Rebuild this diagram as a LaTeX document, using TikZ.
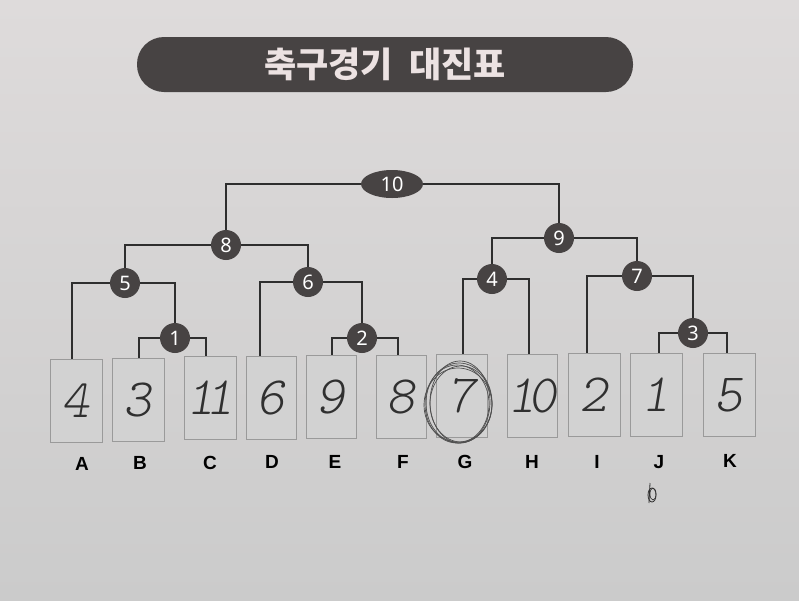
\documentclass[tikz,border=0pt]{standalone}
\usepackage{fontspec}
\setsansfont{Liberation Sans}
\newfontfamily\kr{Noto Sans CJK KR}
\newfontfamily\numfont{Noto Sans}
\newfontfamily\hand{lmmonolt10-regular.otf}[ItalicFont=lmmonolt10-oblique.otf]
\usetikzlibrary{shapes.geometric}
\definecolor{paperT}{HTML}{DEDBDB}
\definecolor{paperB}{HTML}{CBCBCB}
\definecolor{dark}{HTML}{474343}
\definecolor{titletext}{HTML}{ECE2E2}
\definecolor{boxfill}{HTML}{D2D2D2}
\definecolor{boxline}{HTML}{9A9A9A}
\definecolor{wire}{HTML}{2E2E2E}
\definecolor{pen}{HTML}{303030}
\tikzset{
  team/.style={draw=boxline, fill=boxfill, line width=0.8pt, minimum width=52pt, minimum height=83pt, inner sep=0pt,
    font=\hand\itshape\fontsize{54}{54}\selectfont, text=pen},
  match/.style={circle, fill=dark, minimum size=30pt, inner sep=0pt, text=white, font=\numfont\fontsize{20}{20}\selectfont},
  final/.style={ellipse, fill=dark, minimum width=62pt, minimum height=28pt, inner sep=0pt, text=white, font=\numfont\fontsize{20}{20}\selectfont},
  wirestyle/.style={draw=wire, line width=1.2pt},
  lab/.style={font=\sffamily\bfseries\fontsize{19}{19}\selectfont, text=black}
}
\begin{document}
\begin{tikzpicture}[x=1pt,y=-1pt]
\useasboundingbox (0,0) rectangle (799,600);
\shade[top color=paperT, bottom color=paperB] (0,0) rectangle (799,600);

% title banner
\node[fill=dark, rounded corners=27pt, minimum width=496pt, minimum height=55pt, inner sep=0pt,
  text=titletext, font=\kr\bfseries\fontsize{35}{35}\selectfont] (title) at (385,64.5) {축구경기\ \ 대진표};

% team boxes
\node[team] (A) at (76,401) {4};
\node[team] (B) at (138,400) {3};
\node[team] (C) at (210,398) {\makebox[0pt]{1\kern-9pt1}};
\node[team, minimum width=50pt] (D) at (271,398) {6};
\node[team, minimum width=50pt] (E) at (331,397) {9};
\node[team, minimum width=50pt] (F) at (401,397) {8};
\node[team, minimum width=51pt] (G) at (462,396) {7};
\node[team, minimum width=50pt] (H) at (532,396) {\makebox[0pt]{1\kern-7pt0}};
\node[team] (I) at (594,395) {2};
\node[team] (J) at (656,395) {1};
\node[team] (K) at (729,395) {5};

% matches
\node[final] (m10) at (392,184) {10};
\node[match] (m8) at (226,245) {8};
\node[match] (m9) at (559,238) {9};
\node[match] (m5) at (125,283) {5};
\node[match] (m6) at (308,282) {6};
\node[match] (m4) at (492,279) {4};
\node[match] (m7) at (637,276) {7};
\node[match] (m1) at (175,338) {1};
\node[match] (m2) at (362,338) {2};
\node[match] (m3) at (693,333) {3};

% connectors
\draw[wirestyle] (m10.west) -| (m8.north);
\draw[wirestyle] (m10.east) -| (m9.north);
\draw[wirestyle] (m8.west) -| (m5.north);
\draw[wirestyle] (m8.east) -| (m6.north);
\draw[wirestyle] (m9.west) -| (m4.north);
\draw[wirestyle] (m9.east) -| (m7.north);
\draw[wirestyle] (m5.west) -| ([xshift=-4pt]A.north);
\draw[wirestyle] (m5.east) -| (m1.north);
\draw[wirestyle] (m6.west) -| ([xshift=-11pt]D.north);
\draw[wirestyle] (m6.east) -| (m2.north);
\draw[wirestyle] (m1.west) -| ([xshift=1pt]B.north);
\draw[wirestyle] (m1.east) -| ([xshift=-4pt]C.north);
\draw[wirestyle] (m2.west) -| ([xshift=1pt]E.north);
\draw[wirestyle] (m2.east) -| ([xshift=-3pt]F.north);
\draw[wirestyle] (m4.west) -| ([xshift=1pt]G.north);
\draw[wirestyle] (m4.east) -| ([xshift=-3pt]H.north);
\draw[wirestyle] (m7.west) -| ([xshift=-7pt]I.north);
\draw[wirestyle] (m7.east) -| (m3.north);
\draw[wirestyle] (m3.west) -| ([xshift=3pt]J.north);
\draw[wirestyle] (m3.east) -| ([xshift=-2pt]K.north);

% pen circles around G
\begin{scope}[draw=pen!85, line width=0.7pt]
\draw (459,403) ellipse [x radius=33pt, y radius=40pt];
\draw (461,404) ellipse [x radius=31pt, y radius=38pt];
\draw (458,405) ellipse [x radius=34pt, y radius=37pt];
\draw (460,402) ellipse [x radius=30pt, y radius=41pt];
\draw (457,404) ellipse [x radius=32pt, y radius=39pt];
\end{scope}

% letters
\node[lab] (lA) at (82,464) {A};
\node[lab] (lB) at (140,463) {B};
\node[lab] (lC) at (210,463) {C};
\node[lab] (lD) at (272,462) {D};
\node[lab] (lE) at (335,462) {E};
\node[lab] (lF) at (403,462) {F};
\node[lab] (lG) at (465,462) {G};
\node[lab] (lH) at (532,462) {H};
\node[lab] (lI) at (597,462) {I};
\node[lab] (lJ) at (659,462) {J};
\node[lab] (lK) at (730,461) {K};

% pen mark under J
\draw[pen, line width=0.8pt] (650,483) -- (649,503);
\draw[pen, line width=0.8pt] (652,495) ellipse [x radius=4pt, y radius=7pt];
\draw[pen, line width=0.6pt] (653,494) ellipse [x radius=3pt, y radius=6pt];
\end{tikzpicture}
\end{document}
